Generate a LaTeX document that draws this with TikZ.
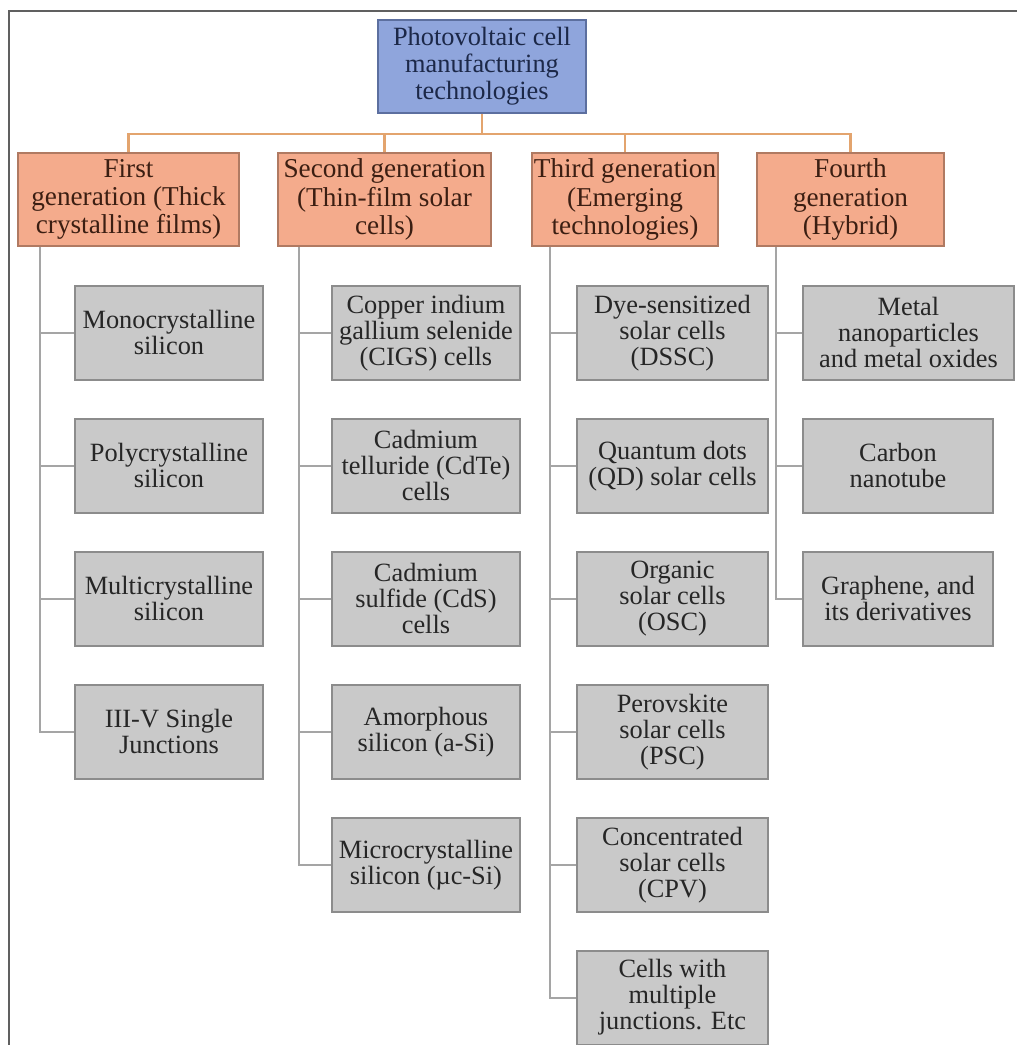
\documentclass[tikz,border=0pt]{standalone}
\usepackage{fontspec}
\setmainfont{Liberation Serif}
\usepackage{tikz}
\usetikzlibrary{positioning}
\definecolor{rootfill}{HTML}{8FA5DC}
\definecolor{rootdraw}{HTML}{5C6F9F}
\definecolor{roottext}{HTML}{1C2848}
\definecolor{genfill}{HTML}{F4AB8C}
\definecolor{gendraw}{HTML}{B07A62}
\definecolor{gentext}{HTML}{3B1E12}
\definecolor{leaffill}{HTML}{C9C9C9}
\definecolor{leafdraw}{HTML}{8C8C8C}
\definecolor{leaftext}{HTML}{262626}
\definecolor{feedline}{HTML}{E3A46E}
\definecolor{branchline}{HTML}{A5A5A5}
\tikzset{
  rootbox/.style={rectangle, draw=rootdraw, fill=rootfill, line width=1.1pt,
                  text=roottext, align=center, inner sep=1pt,
                  minimum width=4.16cm, minimum height=1.86cm,
                  font=\fontsize{15}{15.4}\selectfont},
  genbox/.style={rectangle, draw=gendraw, fill=genfill, line width=1.1pt,
                 text=gentext, align=center, inner sep=1pt,
                 minimum height=1.86cm, font=\fontsize{15.5}{16}\selectfont},
  leaf/.style={rectangle, draw=leafdraw, fill=leaffill, line width=1.1pt,
               text=leaftext, align=center, inner sep=1pt,
               minimum height=1.88cm, font=\fontsize{15}{14.8}\selectfont},
  feed/.style={draw=feedline, line width=1.4pt},
  branch/.style={draw=branchline, line width=1.3pt},
  frame/.style={draw=gray!75!black, line width=1.7pt},
}
\begin{document}
\begin{tikzpicture}[node distance=0.74cm]
  \useasboundingbox (0,0) rectangle (20.34,-20.9);
  % Outer frame
  \draw[frame] (0.18,-20.9) -- (0.18,-0.22) -- (20.34,-0.22);

  % Root
  \node[rootbox] (root) at (9.64,-1.33)
    {Photovoltaic cell\\manufacturing\\technologies};

  % Generations
  \node[genbox, minimum width=4.42cm] (gen1) at (2.57,-3.99)
    {First\\generation (Thick\\crystalline films)};
  \node[genbox, minimum width=4.26cm] (gen2) at (7.69,-3.99)
    {Second generation\\(Thin-film solar\\cells)};
  \node[genbox, minimum width=3.72cm] (gen3) at (12.5,-3.99)
    {Third generation\\(Emerging\\technologies)};
  \node[genbox, minimum width=3.74cm] (gen4) at (17.01,-3.99)
    {Fourth\\generation\\(Hybrid)};

  % First generation
  \node[leaf, minimum width=3.76cm, anchor=north west] (mono) at (1.48,-5.7)
    {Monocrystalline\\silicon};
  \node[leaf, minimum width=3.76cm, below=of mono] (poly)
    {Polycrystalline\\silicon};
  \node[leaf, minimum width=3.76cm, below=of poly] (multi)
    {Multicrystalline\\silicon};
  \node[leaf, minimum width=3.76cm, below=of multi] (threefive)
    {III-V Single\\Junctions};

  % Second generation
  \node[leaf, minimum width=3.76cm, anchor=north west] (cigs) at (6.62,-5.7)
    {Copper indium\\gallium selenide\\(CIGS) cells};
  \node[leaf, minimum width=3.76cm, below=of cigs] (cdte)
    {Cadmium\\telluride (CdTe)\\cells};
  \node[leaf, minimum width=3.76cm, below=of cdte] (cds)
    {Cadmium\\sulfide (CdS)\\cells};
  \node[leaf, minimum width=3.76cm, below=of cds] (asi)
    {Amorphous\\silicon (a-Si)};
  \node[leaf, minimum width=3.76cm, below=of asi] (mcsi)
    {Microcrystalline\\silicon (µc-Si)};

  % Third generation
  \node[leaf, minimum width=3.82cm, anchor=north west] (dssc) at (11.52,-5.7)
    {Dye-sensitized\\solar cells\\(DSSC)};
  \node[leaf, minimum width=3.82cm, below=of dssc] (qd)
    {Quantum dots\\(QD) solar cells};
  \node[leaf, minimum width=3.82cm, below=of qd] (osc)
    {Organic\\solar cells\\(OSC)};
  \node[leaf, minimum width=3.82cm, below=of osc] (psc)
    {Perovskite\\solar cells\\(PSC)};
  \node[leaf, minimum width=3.82cm, below=of psc] (cpv)
    {Concentrated\\solar cells\\(CPV)};
  \node[leaf, minimum width=3.82cm, below=of cpv] (multij)
    {Cells with\\multiple\\junctions. Etc};

  % Fourth generation
  \node[leaf, minimum width=4.22cm, anchor=north west] (metal) at (16.04,-5.7)
    {Metal\\nanoparticles\\and metal oxides};
  \node[leaf, minimum width=3.8cm, below=of metal.south west,
        anchor=north west] (cnt)
    {Carbon\\nanotube};
  \node[leaf, minimum width=3.8cm, below=of cnt] (graphene)
    {Graphene, and\\its derivatives};

  % Connectors
  \foreach \g in {gen1,gen2,gen3,gen4}
    \draw[feed] (root.south) -- ++(0,-0.4) -| (\g.north);

  \coordinate (t1) at ([xshift=0.46cm]gen1.south west);
  \coordinate (t2) at ([xshift=0.44cm]gen2.south west);
  \coordinate (t3) at ([xshift=0.38cm]gen3.south west);
  \coordinate (t4) at ([xshift=0.40cm]gen4.south west);
  \foreach \n in {mono,poly,multi,threefive}
    \draw[branch] (t1) |- (\n.west);
  \foreach \n in {cigs,cdte,cds,asi,mcsi}
    \draw[branch] (t2) |- (\n.west);
  \foreach \n in {dssc,qd,osc,psc,cpv,multij}
    \draw[branch] (t3) |- (\n.west);
  \foreach \n in {metal,cnt,graphene}
    \draw[branch] (t4) |- (\n.west);
\end{tikzpicture}
\end{document}
